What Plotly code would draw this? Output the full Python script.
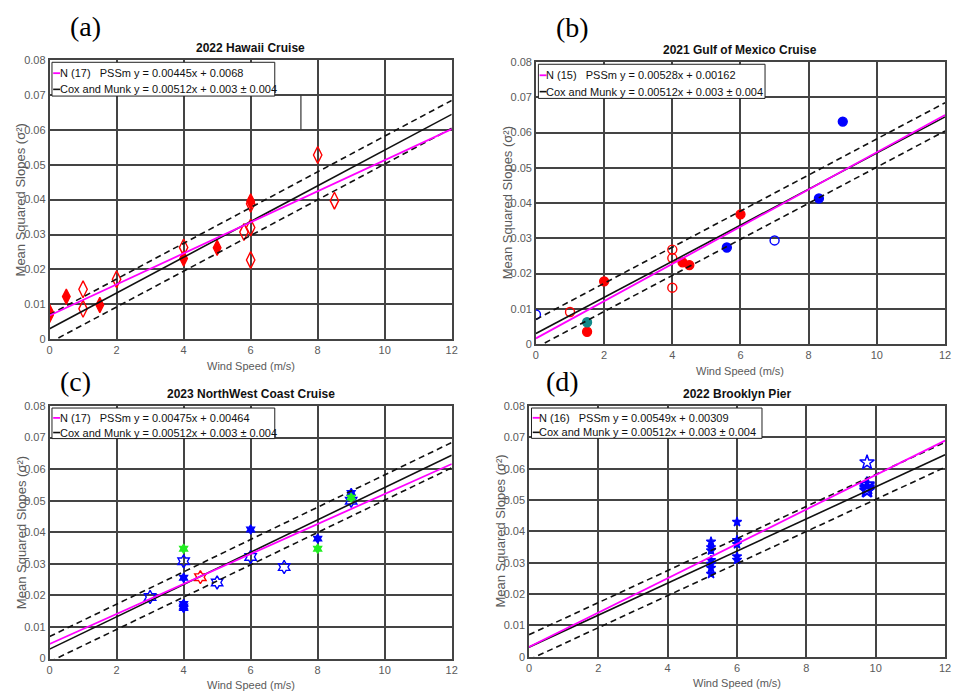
import plotly.graph_objects as go

W, H = 956, 700

# ---------------- data ----------------
panel_titles = ["2022 Hawaii Cruise", "2021 Gulf of Mexico Cruise",
                "2023 NorthWest Coast Cruise", "2022 Brooklyn Pier"]
panel_tags = ["(a)", "(b)", "(c)", "(d)"]
panel_counts = [17, 15, 17, 16]
pssm_slopes = [0.00445, 0.00528, 0.00475, 0.00549]
pssm_intercepts = [0.0068, 0.00162, 0.00464, 0.00309]
pssm_intercept_text = ["0.0068", "0.00162", "0.00464", "0.00309"]
cm_slope, cm_intercept, cm_err = 0.00512, 0.003, 0.004
fit_x = [0, 12]

x_ticks = [0, 2, 4, 6, 8, 10, 12]
y_ticks = [0, 0.01, 0.02, 0.03, 0.04, 0.05, 0.06, 0.07, 0.08]

# (a) Hawaii
hawaii_filled_x = [0, 0, 0.5, 1.5, 4, 5, 6]
hawaii_filled_y = [0.0078, 0.0069, 0.0122, 0.0098, 0.0231, 0.0262, 0.0395]
hawaii_open_x = [1, 1, 2, 4, 5.8, 6, 6, 6, 8, 8.5]
hawaii_open_y = [0.0143, 0.0087, 0.0172, 0.0263, 0.0307, 0.0388, 0.0320, 0.0227, 0.0528, 0.0397]
hawaii_stray_x = [7.5, 7.5]
hawaii_stray_y = [0.060, 0.070]

# (b) Gulf of Mexico
gulf_red_filled_x = [1.5, 2, 4.3, 4.5, 6]
gulf_red_filled_y = [0.0035, 0.0178, 0.0232, 0.0224, 0.0368]
gulf_red_open_x = [1, 4, 4, 4]
gulf_red_open_y = [0.0091, 0.0268, 0.0244, 0.0160]
gulf_blue_filled_x = [5.6, 8.3, 9.0]
gulf_blue_filled_y = [0.0274, 0.0413, 0.0631]
gulf_blue_open_x = [0, 7.0]
gulf_blue_open_y = [0.0084, 0.0294]
gulf_teal_x = [1.5]
gulf_teal_y = [0.0062]

# (c) NorthWest Coast
nw_blue_open_x = [3, 4, 5, 6, 7, 9]
nw_blue_open_y = [0.0195, 0.0308, 0.0241, 0.0322, 0.0290, 0.0500]
nw_blue_filled_x = [4, 4, 4, 4, 6, 8, 9]
nw_blue_filled_y = [0.0256, 0.0173, 0.0165, 0.0160, 0.0409, 0.0380, 0.0525]
nw_green_x = [4, 8, 9]
nw_green_y = [0.0348, 0.0348, 0.0510]
nw_red_x = [4.5]
nw_red_y = [0.0258]

# (d) Brooklyn Pier
bk_small_x = [5.25, 5.25, 5.25, 5.25, 5.25, 5.25, 5.25, 6, 6, 6, 6, 6]
bk_small_y = [0.0367, 0.0349, 0.0339, 0.0308, 0.0296, 0.0283, 0.0264,
              0.0430, 0.0372, 0.0359, 0.0320, 0.0309]
bk_big_open_x = [9.75]
bk_big_open_y = [0.0620]
bk_big_filled_x = [9.75, 9.75, 9.75]
bk_big_filled_y = [0.0549, 0.0539, 0.0530]

# ---------------- styling ----------------
SANS = "Liberation Sans, Arial, sans-serif"
GRID = "#444444"
TICKC = "#5a5a5a"
RED, BLUE, TEAL, LIME, MAG = "#ff0000", "#0000ff", "#138a8a", "#22ee22", "#ff00ff"

def px(x):
    return x / W

def py(y):
    return 1 - y / H

# plot areas in pixels: (left, right, top, bottom)
boxes = [(47, 453, 55, 339), (538, 951, 57, 344), (47, 453, 407, 664), (531, 951, 407, 662)]
tag_positions = [(83, 21), (575, 22), (73, 382), (565, 382)]

fig = go.Figure()

axis_ids = [("x", "y"), ("x2", "y2"), ("x3", "y3"), ("x4", "y4")]

def add_pts(i, xs, ys, symbol, color, size, lw=1.3, fillcol=None):
    xr, yr = axis_ids[i]
    fig.add_trace(go.Scatter(
        x=xs, y=ys, mode="markers", xaxis=xr, yaxis=yr, showlegend=False,
        marker=dict(symbol=symbol, size=size, color=fillcol or color,
                    line=dict(color=color, width=lw))))

# markers
add_pts(0, hawaii_filled_x, hawaii_filled_y, "diamond-tall", RED, 11)
add_pts(0, hawaii_open_x, hawaii_open_y, "diamond-tall-open", RED, 12, 1.4)
add_pts(1, gulf_red_filled_x, gulf_red_filled_y, "circle", RED, 9)
add_pts(1, gulf_red_open_x, gulf_red_open_y, "circle-open", RED, 9, 1.4)
add_pts(1, gulf_blue_filled_x, gulf_blue_filled_y, "circle", BLUE, 9)
add_pts(1, gulf_blue_open_x, gulf_blue_open_y, "circle-open", BLUE, 9, 1.4)
add_pts(1, gulf_teal_x, gulf_teal_y, "circle", TEAL, 9)
add_pts(2, nw_blue_open_x, nw_blue_open_y, "hexagram-open", BLUE, 10, 1.4)
add_pts(2, nw_blue_filled_x, nw_blue_filled_y, "hexagram", BLUE, 7)
add_pts(2, nw_green_x, nw_green_y, "hexagram", LIME, 7)
add_pts(2, nw_red_x, nw_red_y, "hexagram-open", RED, 10, 1.4)
add_pts(3, bk_small_x, bk_small_y, "star", BLUE, 7)
add_pts(3, bk_big_open_x, bk_big_open_y, "star-open", BLUE, 11, 1.4)
add_pts(3, bk_big_filled_x, bk_big_filled_y, "star-open", BLUE, 11, 2.2)

# stray segment in (a)
fig.add_trace(go.Scatter(x=hawaii_stray_x, y=hawaii_stray_y, mode="lines",
                         xaxis="x", yaxis="y", showlegend=False,
                         line=dict(color="#333333", width=1.2)))

# fit lines
for i in range(4):
    xr, yr = axis_ids[i]
    cm_y = [cm_slope * v + cm_intercept for v in fit_x]
    up_y = [cm_slope * v + cm_intercept + cm_err for v in fit_x]
    lo_y = [cm_slope * v + cm_intercept - cm_err for v in fit_x]
    ps_y = [pssm_slopes[i] * v + pssm_intercepts[i] for v in fit_x]
    for yy in (up_y, lo_y):
        fig.add_trace(go.Scatter(x=fit_x, y=yy, mode="lines", xaxis=xr, yaxis=yr,
                                 showlegend=False,
                                 line=dict(color="#111111", width=1.6, dash="6px,4px")))
    fig.add_trace(go.Scatter(x=fit_x, y=cm_y, mode="lines", xaxis=xr, yaxis=yr,
                             name="Cox and Munk", showlegend=False,
                             line=dict(color="#111111", width=1.6)))
    fig.add_trace(go.Scatter(x=fit_x, y=ps_y, mode="lines", xaxis=xr, yaxis=yr,
                             name="PSSm", showlegend=False,
                             line=dict(color=MAG, width=1.8)))

layout = dict(width=W, height=H, margin=dict(l=0, r=0, t=0, b=0),
              paper_bgcolor="white", plot_bgcolor="white", showlegend=False)

annotations = []
shapes = []

def ann(text, x, y, size, color="#111111", family=SANS, xanchor="center", angle=0):
    annotations.append(dict(text=text, x=px(x), y=py(y), xref="paper", yref="paper",
                            showarrow=False, xanchor=xanchor, yanchor="middle",
                            textangle=angle, font=dict(family=family, size=size, color=color)))

for i, (l, r, t, b) in enumerate(boxes):
    n = "" if i == 0 else str(i + 1)
    xr, yr = axis_ids[i]
    layout["xaxis" + n] = dict(
        domain=[px(l), px(r)], anchor=yr, range=[0, 12], tickvals=x_ticks,
        showgrid=True, gridcolor=GRID, gridwidth=1.5, zeroline=False,
        showline=True, mirror=True, linecolor=GRID, linewidth=1.5, ticks="",
        tickfont=dict(family=SANS, size=11, color=TICKC), fixedrange=True)
    layout["yaxis" + n] = dict(
        domain=[py(b), py(t)], anchor=xr, range=[0, 0.08], tickvals=y_ticks,
        showgrid=True, gridcolor=GRID, gridwidth=1.5, zeroline=False,
        showline=True, mirror=True, linecolor=GRID, linewidth=1.5, ticks="",
        tickfont=dict(family=SANS, size=11, color=TICKC), fixedrange=True)
    cx = (l + r) / 2
    wpx, hpx = r - l, b - t
    ann("<b>" + panel_titles[i] + "</b>", cx, t - 12, 12)
    ann("Wind Speed (m/s)", cx, b + 27, 11, TICKC)
    ann("Mean Squared Slopes (σ²)", l - 29, (t + b) / 2, 13, TICKC, angle=-90)
    tx, ty = tag_positions[i]
    ann(panel_tags[i], tx, ty, 28, "black", "Liberation Serif, Times New Roman, serif")

    # legend box (paper coordinates derived from the plot box)
    lx0, lx1 = l + 0.006 * wpx, l + 0.56 * wpx
    ly0, ly1 = t + 0.008 * hpx, t + 0.129 * hpx
    row1, row2 = t + 0.047 * hpx, t + 0.105 * hpx
    sx0, sx1 = l + 0.009 * wpx, l + 0.026 * wpx
    shapes.append(dict(type="rect", xref="paper", yref="paper",
                       x0=px(lx0), x1=px(lx1), y0=py(ly1), y1=py(ly0),
                       line=dict(color="#222222", width=1), fillcolor="white", layer="above"))
    shapes.append(dict(type="line", xref="paper", yref="paper",
                       x0=px(sx0), x1=px(sx1), y0=py(row1), y1=py(row1),
                       line=dict(color=MAG, width=1.8), layer="above"))
    shapes.append(dict(type="line", xref="paper", yref="paper",
                       x0=px(sx0), x1=px(sx1), y0=py(row2), y1=py(row2),
                       line=dict(color="#111111", width=1.6), layer="above"))
    leg1 = "N (%d) \u00a0 PSSm y = %sx + %s" % (panel_counts[i], pssm_slopes[i], pssm_intercept_text[i])
    leg2 = "Cox and Munk y = %sx + %s ± %s" % (cm_slope, cm_intercept, cm_err)
    tx0 = l + 0.02 * wpx
    ann(leg1, tx0, row1, 11, xanchor="left")
    ann(leg2, tx0, row2, 11, xanchor="left")

layout["annotations"] = annotations
layout["shapes"] = shapes
fig.update_layout(**layout)

fig.write_html("out.html")
